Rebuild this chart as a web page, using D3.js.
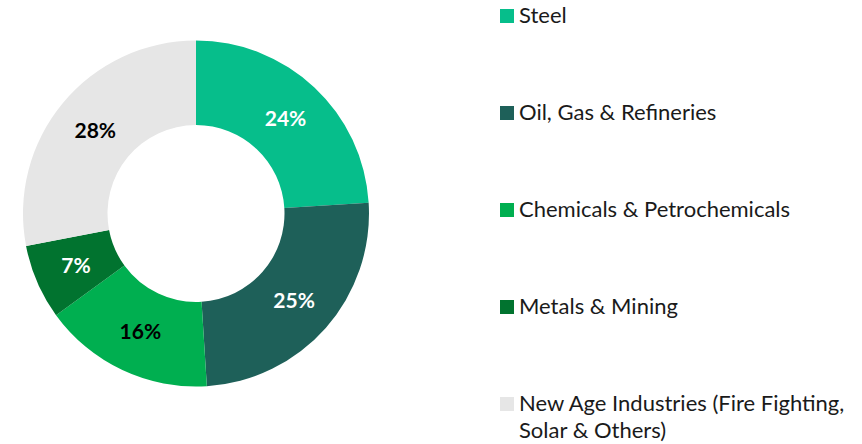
<!DOCTYPE html>
<html><head><meta charset="utf-8">
<script src="https://cdn.jsdelivr.net/npm/d3@7"></script>
<style>body{margin:0;background:#fff;}svg{display:block;}</style>
</head><body>
<svg id="chart" width="862" height="444"></svg>
<script>
const categories = ["Steel","Oil, Gas & Refineries","Chemicals & Petrochemicals","Metals & Mining","New Age Industries (Fire Fighting, Solar & Others)"];
const legendLines = [["Steel"],["Oil, Gas & Refineries"],["Chemicals & Petrochemicals"],["Metals & Mining"],["New Age Industries (Fire Fighting,","Solar & Others)"]];
const values = [24,25,16,7,28];
const colors = ["#06BE8B","#1E6059","#00AF50","#01732F","#E6E6E6"];
const labelColors = ["#ffffff","#ffffff","#000000","#ffffff","#000000"];

const svg = d3.select("#chart");
const cx = 196, cy = 213.5, rOuter = 173, rInner = 88.5;
const pie = d3.pie().sort(null).value(d=>d);
const arc = d3.arc().innerRadius(rInner).outerRadius(rOuter);
const arcs = pie(values);
const g = svg.append("g").attr("transform",`translate(${cx},${cy})`);
g.selectAll("path").data(arcs).join("path").attr("d",arc).attr("fill",(d,i)=>colors[i]);
g.selectAll("text").data(arcs).join("text")
  .attr("transform",d=>`translate(${arc.centroid(d)})`)
  .attr("text-anchor","middle").attr("dy","0.36em")
  .attr("font-family","Lato, sans-serif").attr("font-weight","bold").attr("font-size",21)
  .attr("fill",(d,i)=>labelColors[i])
  .text(d=>d.data+"%");

const legendY = d3.scalePoint().domain(categories).range([23,411]);
const lg = svg.append("g");
categories.forEach((c,i)=>{
  const y = legendY(c);
  lg.append("rect").attr("x",500).attr("y",y-14).attr("width",14).attr("height",14).attr("fill",colors[i]);
  const t = lg.append("text").attr("x",519).attr("y",y)
    .attr("font-family","Lato, sans-serif").attr("font-size",22).attr("fill","#1a1a1a");
  legendLines[i].forEach((ln,j)=>{
    t.append("tspan").attr("x",519).attr("dy", j===0?0:26.5).text(ln);
  });
});
</script>
</body></html>
